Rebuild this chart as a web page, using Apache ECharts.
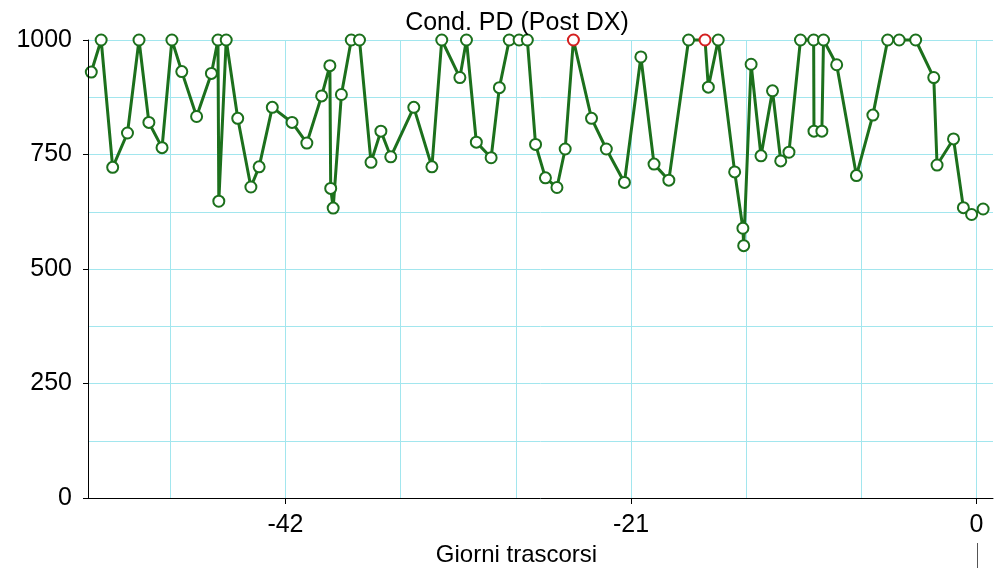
<!DOCTYPE html>
<html>
<head>
<meta charset="utf-8">
<title>Cond. PD (Post DX)</title>
<script src="https://cdn.jsdelivr.net/npm/echarts@6/dist/echarts.min.js"></script>
<style>
  html, body { margin: 0; padding: 0; background: #ffffff; }
  #chart { width: 1002px; height: 568px; }
</style>
</head>
<body>
<div id="chart"></div>
<script>
// Giorni trascorsi (days relative to today)
const days = [
  -53.8, -53.2, -52.5, -51.6, -50.9, -50.3, -49.5, -48.9, -48.3, -47.4,
  -46.5, -46.1, -46.05, -45.6, -44.9, -44.1, -43.6, -42.8, -41.6, -40.7,
  -39.8, -39.3, -39.25, -39.1, -38.6, -38.0, -37.5, -36.8, -36.2, -35.6,
  -34.2, -33.1, -32.5, -31.4, -31.0, -30.4, -29.5, -29.0, -28.4, -27.8,
  -27.3, -26.8, -26.2, -25.5, -25.0, -24.5, -23.4, -22.5, -21.4, -20.4,
  -19.6, -18.7, -17.5, -16.5, -16.3, -15.7, -14.7, -14.2, -14.15, -13.7,
  -13.1, -12.4, -11.9, -11.4, -10.7, -9.9, -9.88, -9.4, -9.3, -8.5,
  -7.3, -6.3, -5.4, -4.7, -3.7, -2.6, -2.4, -1.4, -0.8, -0.3,
  0.4
];

// Cond. PD readings
const values = [
  930, 1000, 722, 797, 1000, 820, 765, 1000, 931, 833,
  927, 1000, 648, 1000, 829, 679, 723, 853, 820, 775,
  878, 944, 676, 633, 881, 1000, 1000, 733, 801, 745,
  853, 723, 1000, 918, 1000, 777, 743, 896, 1000, 1000,
  1000, 772, 699, 678, 762, 1000, 829, 762, 689, 963,
  729, 694, 1000, 1000, 897, 1000, 712, 589, 551, 947,
  747, 889, 736, 755, 1000, 1000, 801, 801, 1000, 946,
  704, 836, 1000, 1000, 1000, 918, 727, 784, 634, 619,
  631
];

// readings flagged in red (indices into the arrays above)
const flagged = [45, 53];

const xTickLabels = [-42, -21, 0];
const xGridValues = [-49, -42, -35, -28, -21, -14, -7, 0];

const GREEN = '#1c701c';
const RED = '#d42020';
const GRID = '#a2e6ee';
const FONT = '"Liberation Sans", Arial, sans-serif';

const seriesData = days.map((d, i) => {
  const item = { value: [d, values[i]] };
  if (flagged.indexOf(i) >= 0) {
    item.itemStyle = { borderColor: RED, color: RED };
  }
  return item;
});

const chart = echarts.init(document.getElementById('chart'), null, { renderer: 'canvas' });

chart.setOption({
  animation: false,
  backgroundColor: '#ffffff',
  grid: {
    left: 88, right: 9, top: 40, bottom: 70,
    containLabel: false,
    outerBoundsMode: 'none'
  },
  xAxis: [
    {
      type: 'value',
      min: -54,
      max: 1,
      name: 'Giorni trascorsi',
      nameLocation: 'middle',
      nameGap: 44,
      nameTextStyle: {
        color: '#000', fontSize: 24, fontFamily: FONT,
        padding: [0, 48, 0, 0]
      },
      axisLine: { show: true, onZero: false, lineStyle: { color: '#000', width: 1 } },
      axisTick: { show: true, length: 6, customValues: xTickLabels, lineStyle: { color: '#000' } },
      axisLabel: {
        show: true, customValues: xTickLabels, margin: 15,
        color: '#000', fontSize: 25, fontFamily: FONT
      },
      splitLine: { show: false },
      z: 5
    },
    {
      // vertical weekly grid lines
      type: 'value',
      min: -54,
      max: 1,
      position: 'bottom',
      axisLine: { show: false },
      axisTick: { show: false, customValues: xGridValues },
      axisLabel: { show: false, customValues: xGridValues },
      splitLine: { show: true, lineStyle: { color: GRID, width: 1 } }
    }
  ],
  yAxis: [
    {
      type: 'value',
      min: 0,
      max: 1000,
      interval: 250,
      axisLine: { show: true, onZero: false, lineStyle: { color: '#000', width: 1 } },
      axisTick: { show: true, length: 5, lineStyle: { color: '#000' } },
      axisLabel: {
        margin: 16, color: '#000', fontSize: 25, fontFamily: FONT,
        formatter: v => String(v)
      },
      splitLine: { show: false },
      z: 5
    },
    {
      // horizontal grid lines every 125
      type: 'value',
      min: 0,
      max: 1000,
      interval: 125,
      position: 'left',
      axisLine: { show: false },
      axisTick: { show: false },
      axisLabel: { show: false },
      splitLine: { show: true, lineStyle: { color: GRID, width: 1 } }
    }
  ],
  series: [
    {
      type: 'line',
      xAxisIndex: 0,
      yAxisIndex: 0,
      data: seriesData,
      symbol: 'emptyCircle',
      symbolSize: 11,
      clip: false,
      lineStyle: { color: GREEN, width: 3 },
      itemStyle: { color: GREEN, borderColor: GREEN, borderWidth: 2.5 },
      z: 3
    }
  ],
  graphic: [
    {
      type: 'text',
      x: 517,
      y: 23,
      style: {
        text: 'Cond. PD (Post DX)',
        fill: '#000',
        fontSize: 25,
        fontFamily: FONT,
        align: 'center',
        verticalAlign: 'middle'
      },
      z: 10
    }
  ]
});

// thin marker under the "0" day label
const zeroX = Math.round(chart.convertToPixel({ xAxisIndex: 0 }, 0)) + 0.5;
chart.setOption({
  graphic: [
    {},
    {
      type: 'line',
      shape: { x1: zeroX, y1: 543, x2: zeroX, y2: 568 },
      style: { stroke: '#555', lineWidth: 1 },
      z: 10
    }
  ]
});
</script>
</body>
</html>
